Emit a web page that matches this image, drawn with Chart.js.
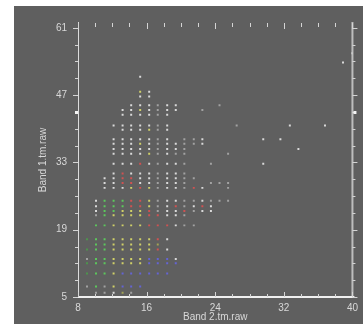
<!DOCTYPE html>
<html>
<head>
<meta charset="utf-8">
<script src="https://cdn.jsdelivr.net/npm/chart.js@4"></script>
<style>
  html, body { margin: 0; background: #fff; }
  #panel { position: absolute; left: 14px; top: 6px; width: 349px; height: 318px; background: #5f5f5f; }
</style>
</head>
<body>
<div id="panel"><canvas id="scatterPlot" width="349" height="318"></canvas></div>
<script>
// Columnas (Band 2) y filas (Band 1) donde caen los puntos del scatter
const colX = [9.05, 10.1, 11.1, 12.15, 13.2, 14.2, 15.25, 16.3, 17.3, 18.4, 19.4, 20.4, 21.5, 22.5, 23.5, 24.5, 25.5, 26.5];
const rowY = [50.8, 47.7, 46.7, 44.9, 43.9, 42.9, 40.7, 39.8, 37.8, 36.9, 35.8, 34.8, 32.7, 30.7, 29.7, 28.7,
              27.7, 25.0, 23.9, 22.9, 22.0, 19.9, 17.0, 15.9, 14.9, 12.9, 12.0, 9.9, 7.2, 5.9];

// Clase de cada punto por fila (una letra por columna, '.' = sin punto)
const rowClasses = [
  "......W...........",
  "......YW..........",
  "......WW..........",
  ".....WWWDWW....D..",
  "....WWYWDWW..D....",
  "....WWWWDW........",
  "...WWWWWDW.......D",
  "....WWWYDW........",
  "...WWWWWDW.DDW....",
  "...WWWYWDWWDDW....",
  "...WWWWWDWWD......",
  "...WWWWYDWDD....D.",
  "...WWWRWDWWD..D...",
  "...WRWWWDWWD......",
  "..WWRRWWDWWDD.....",
  "..WWRRWWDWWD..DDD.",
  "..WWWYRYDWWDRW..D.",
  ".WGGGRRYDWWDDWDDD.",
  ".WGGGRRYDWRDWRW...",
  ".WGGYYYRDWWRDWW...",
  ".DGYYYYRRWWD......",
  ".GGYYYYRRRWDD.....",
  "gGGYYYYYRW........",
  ".GGYYYYYO.........",
  "gGGYYYYYRW........",
  "DGGYYYYBBBW.......",
  "gGGYYYYBBBB.......",
  "gGGYBBBBBB........",
  "DGDYBBB...........",
  ".DDWOD............",
];

// Puntos sueltos a la derecha de la nube
const extraX = [32.7, 36.8, 29.6, 31.6, 33.7, 29.6, 38.9, 40.0];
const extraY = [40.7, 40.7, 37.8, 37.8, 35.8, 32.7, 53.8, 55.7];

const xTicks = [8, 16, 24, 32, 40];
const yTicks = [5, 19, 33, 47, 61];

const colores = {
  W: '#dadada',
  D: '#a2a2a2',
  Y: '#d0d068',
  G: '#5cc85c',
  g: '#4d954d',
  R: '#d05252',
  B: '#6464d4',
  O: '#a2a254',
};

const sets = {};
Object.keys(colores).forEach(k => {
  sets[k] = {
    data: [],
    backgroundColor: colores[k],
    pointStyle: 'rect',
    pointRadius: 1.4,
    pointBorderWidth: 0,
    pointHoverRadius: 1.4,
  };
});

rowClasses.forEach((fila, i) => {
  [...fila].forEach((c, j) => {
    if (c !== '.') sets[c].data.push({ x: colX[j], y: rowY[i] });
  });
});
extraX.forEach((vx, i) => sets.W.data.push({ x: vx, y: extraY[i] }));

const textColor = '#d8d8d8';
const fuente = { family: '"Liberation Sans", Arial, sans-serif', size: 10 };

// Marco de ejes con marcas menores (Chart.js no trae minor ticks)
const marcoEjes = {
  id: 'marcoEjes',
  beforeDatasetsDraw(chart) {
    const { ctx, chartArea: a, scales: { x, y } } = chart;
    ctx.save();
    ctx.lineWidth = 1;

    // izquierdo
    ctx.strokeStyle = '#dcdcdc';
    ctx.beginPath();
    ctx.moveTo(a.left + 0.5, a.top - 1);
    ctx.lineTo(a.left + 0.5, a.bottom);
    ctx.stroke();

    // derecho
    ctx.strokeStyle = '#bdbdbd';
    ctx.lineWidth = 2;
    ctx.beginPath();
    ctx.moveTo(a.right, a.top - 1);
    ctx.lineTo(a.right, a.bottom);
    ctx.stroke();

    // inferior
    ctx.strokeStyle = '#f0f0f0';
    ctx.beginPath();
    ctx.moveTo(a.left, a.bottom);
    ctx.lineTo(a.right + 2, a.bottom);
    ctx.stroke();

    ctx.lineWidth = 1;
    ctx.strokeStyle = '#d4d4d4';
    ctx.beginPath();
    for (let v = 8; v <= 40; v += 2) {
      const px = Math.round(x.getPixelForValue(v)) + 0.5;
      const mayor = v % 8 === 0;
      // arriba
      ctx.moveTo(px, a.top);
      ctx.lineTo(px, a.top + (mayor ? 6 : 4));
      // abajo
      ctx.moveTo(px, a.bottom);
      ctx.lineTo(px, a.bottom - (mayor ? 5 : 3));
    }
    for (let k = 0; k <= 16; k++) {
      const v = 5 + k * 3.5;
      const py = Math.round(y.getPixelForValue(v)) + 0.5;
      const mayor = k % 4 === 0;
      ctx.moveTo(a.left, py);
      ctx.lineTo(a.left - (mayor ? 5 : 3), py);
      ctx.moveTo(a.right, py);
      ctx.lineTo(a.right + (mayor ? 5 : 3), py);
    }
    ctx.stroke();

    // marca cuadrada en 43.5
    const pm = Math.round(y.getPixelForValue(43.5));
    ctx.fillStyle = '#f4f4f4';
    ctx.fillRect(a.left - 3, pm - 1, 3, 3);
    ctx.fillRect(a.right + 1, pm - 1, 3, 3);
    ctx.restore();
  }
};

var ctx = document.getElementById('scatterPlot').getContext('2d');

var scatter = new Chart(ctx, {
  type: 'scatter',
  plugins: [marcoEjes],
  data: { datasets: Object.values(sets) },
  options: {
    responsive: false,
    animation: false,
    layout: { padding: { top: 3, right: 10, left: 0, bottom: 0 } },
    plugins: {
      legend: { display: false },
      tooltip: { enabled: false },
    },
    scales: {
      x: {
        type: 'linear',
        min: 8,
        max: 40,
        afterBuildTicks: (s) => { s.ticks = xTicks.map(v => ({ value: v })); },
        afterFit: (s) => { s.height = 27; },
        grid: { display: false, drawTicks: false },
        border: { display: false },
        ticks: { color: textColor, font: fuente, padding: 5, maxRotation: 0, autoSkip: false },
        title: {
          display: true,
          text: 'Band 2.tm.raw',
          color: textColor,
          font: fuente,
          padding: { top: 0, bottom: 1 },
        },
      },
      y: {
        type: 'linear',
        min: 5,
        max: 62,
        afterBuildTicks: (s) => { s.ticks = yTicks.map(v => ({ value: v })); },
        afterFit: (s) => { s.width = 64; },
        grid: { display: false, drawTicks: false },
        border: { display: false },
        ticks: { color: textColor, font: fuente, padding: 11, autoSkip: false },
        title: {
          display: true,
          text: 'Band 1.tm.raw',
          color: textColor,
          font: fuente,
          padding: { top: 23, bottom: 0 },
        },
      },
    },
  },
});
</script>
</body>
</html>
